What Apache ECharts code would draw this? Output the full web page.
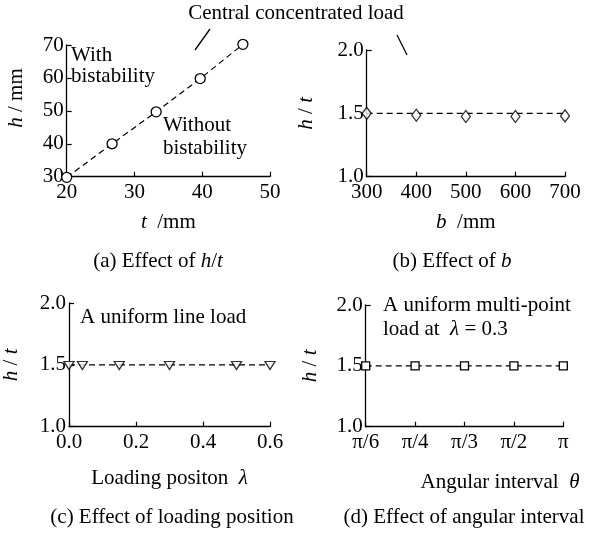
<!DOCTYPE html>
<html><head><meta charset="utf-8">
<script src="https://cdn.jsdelivr.net/npm/echarts@6/dist/echarts.min.js"></script>
<style>html,body{margin:0;padding:0;background:#fff}#c{width:590px;height:538px}</style>
</head><body><div id="c"></div>
<script>
// Panel (a): h vs t
const aT = [20, 26.7, 33.2, 39.7, 46.0];
const aH = [29.8, 40, 49.7, 59.8, 70.2];
// Panel (b): h/t vs b
const bB = [300, 400, 500, 600, 700];
const bR = [1.5, 1.485, 1.475, 1.475, 1.48];
// Panel (c): h/t vs loading position
const cL = [0, 0.04, 0.15, 0.3, 0.5, 0.6];
const cR = [1.495, 1.495, 1.495, 1.495, 1.495, 1.495];
// Panel (d): h/t vs angular interval
const dTheta = ['π/6', 'π/4', 'π/3', 'π/2', 'π'];
const dR = [1.5, 1.5, 1.5, 1.5, 1.5];
const refLevel = 1.5;

const FONT = 'Liberation Serif';
const FS = 21;
const F = FS + 'px "Liberation Serif"';
const chart = echarts.init(document.getElementById('c'));
const axLine = {lineStyle: {color: '#000', width: 1.3}};
const tick = {show: true, inside: true, length: 5, lineStyle: {color: '#000', width: 1.2}};
const lab = (m) => ({color: '#000', fontFamily: FONT, fontSize: FS, margin: m});
const rich = {
  i: {fontStyle: 'italic', fontFamily: FONT, fontSize: FS, color: '#000'},
  n: {fontFamily: FONT, fontSize: FS, color: '#000'}
};
const nameStyle = {fontFamily: FONT, fontSize: FS, color: '#000', rich: rich};
const dash = {color: '#000', width: 1.2, type: [6, 4]};
const empty = {color: '#fff', borderColor: '#000', borderWidth: 1.3};

const grids = [
  {left: 66.7, top: 45, width: 203.3, height: 131.7},
  {left: 366.7, top: 50, width: 198.3, height: 126.7},
  {left: 66.7, top: 303, width: 203.3, height: 123.7},
  {left: 365.7, top: 305, width: 197.6, height: 121.7}
];

const yAxisCommon = (gi, min, max, interval, dec, name, gap) => ({
  gridIndex: gi, type: 'value', min: min, max: max, interval: interval,
  axisLine: Object.assign({show: true}, axLine), axisTick: tick, splitLine: {show: false},
  axisLabel: Object.assign(lab(3), {formatter: v => v.toFixed(dec)}),
  name: name, nameLocation: 'middle', nameGap: gap, nameTextStyle: nameStyle
});

const option = {
  animation: false,
  backgroundColor: '#fff',
  grid: grids,
  xAxis: [
    {gridIndex: 0, type: 'value', min: 20, max: 50, interval: 10,
     axisLine: Object.assign({show: true}, axLine), axisTick: tick, splitLine: {show: false},
     axisLabel: lab(5), name: '{i|t}{n|  /mm}', nameLocation: 'middle', nameGap: 35, nameTextStyle: nameStyle},
    {gridIndex: 1, type: 'value', min: 300, max: 700, interval: 100,
     axisLine: Object.assign({show: true}, axLine), axisTick: tick, splitLine: {show: false},
     axisLabel: lab(5), name: '{i|b}{n|  /mm}', nameLocation: 'middle', nameGap: 35, nameTextStyle: nameStyle},
    {gridIndex: 2, type: 'value', min: 0, max: 0.6, interval: 0.2,
     axisLine: Object.assign({show: true}, axLine), axisTick: tick, splitLine: {show: false},
     axisLabel: Object.assign(lab(5), {formatter: v => v.toFixed(1)}),
     name: '{n|Loading positon  }{i|λ}', nameLocation: 'middle', nameGap: 41, nameTextStyle: nameStyle},
    {gridIndex: 3, type: 'category', data: dTheta, boundaryGap: false,
     axisLine: Object.assign({show: true}, axLine), axisTick: Object.assign({}, tick, {alignWithLabel: true}), splitLine: {show: false},
     axisLabel: Object.assign(lab(5), {interval: 0})}
  ],
  yAxis: [
    Object.assign(yAxisCommon(0, 30, 70, 10, 0, '', 40), {name: ''}),
    yAxisCommon(1, 1.0, 2.0, 0.5, 1, '{i|h}{n| / }{i|t}', 50),
    yAxisCommon(2, 1.0, 2.0, 0.5, 1, '{i|h}{n| / }{i|t}', 47),
    yAxisCommon(3, 1.0, 2.0, 0.5, 1, '{i|h}{n| / }{i|t}', 45)
  ],
  series: [
    {type: 'line', xAxisIndex: 0, yAxisIndex: 0, data: aT.map((t, i) => [t, aH[i]]), clip: false,
     symbol: 'circle', symbolSize: 10, lineStyle: dash, itemStyle: empty, z: 3},
    {type: 'line', xAxisIndex: 1, yAxisIndex: 1, data: [[bB[0], refLevel], [bB[bB.length - 1], refLevel]],
     symbol: 'none', lineStyle: dash, clip: false},
    {type: 'scatter', xAxisIndex: 1, yAxisIndex: 1, data: bB.map((b, i) => [b, bR[i]]), clip: false,
     symbol: 'diamond', symbolSize: [9, 12], itemStyle: empty, z: 3},
    {type: 'line', xAxisIndex: 2, yAxisIndex: 2, data: [[cL[0], refLevel], [cL[cL.length - 1], refLevel]],
     symbol: 'none', lineStyle: dash, clip: false},
    {type: 'scatter', xAxisIndex: 2, yAxisIndex: 2, data: cL.map((l, i) => [l, cR[i]]), clip: false,
     symbol: 'triangle', symbolRotate: 180, symbolSize: [10, 8], itemStyle: empty, z: 3},
    {type: 'line', xAxisIndex: 3, yAxisIndex: 3, data: dR.map((r, i) => [dTheta[i], r]), clip: false,
     symbol: 'rect', symbolSize: 8, lineStyle: dash, itemStyle: empty, z: 3}
  ],
  graphic: [
    {type: 'text', x: 296, y: 13, style: {text: 'Central concentrated load', font: F, fill: '#000', align: 'center', verticalAlign: 'middle'}},
    {type: 'line', shape: {x1: 195, y1: 50, x2: 210, y2: 29}, style: {stroke: '#000', lineWidth: 1.3}},
    {type: 'line', shape: {x1: 397, y1: 35, x2: 407, y2: 55}, style: {stroke: '#000', lineWidth: 1.3}},
    {type: 'text', x: 16, y: 98, rotation: Math.PI / 2, style: {text: '{i|h}{n| / mm}', font: F, fill: '#000', align: 'center', verticalAlign: 'middle', rich: rich}},
    {type: 'text', x: 71, y: 55, style: {text: 'With', font: F, fill: '#000', align: 'left', verticalAlign: 'middle'}},
    {type: 'text', x: 71, y: 76, style: {text: 'bistability', font: F, fill: '#000', align: 'left', verticalAlign: 'middle'}},
    {type: 'text', x: 163, y: 125, style: {text: 'Without', font: F, fill: '#000', align: 'left', verticalAlign: 'middle'}},
    {type: 'text', x: 163, y: 148, style: {text: 'bistability', font: F, fill: '#000', align: 'left', verticalAlign: 'middle'}},
    {type: 'text', x: 80, y: 317, style: {text: 'A uniform line load', font: F, fill: '#000', align: 'left', verticalAlign: 'middle'}},
    {type: 'text', x: 383, y: 305, style: {text: 'A uniform multi-point', font: F, fill: '#000', align: 'left', verticalAlign: 'middle'}},
    {type: 'text', x: 383, y: 329, style: {text: '{n|load at  }{i|λ}{n| = 0.3}', font: F, fill: '#000', align: 'left', verticalAlign: 'middle', rich: rich}},
    {type: 'text', x: 500, y: 482, style: {text: '{n|Angular interval  }{i|θ}', font: F, fill: '#000', align: 'center', verticalAlign: 'middle', rich: rich}},
    {type: 'text', x: 158, y: 261, style: {text: '{n|(a) Effect of }{i|h}{n|/}{i|t}', font: F, fill: '#000', align: 'center', verticalAlign: 'middle', rich: rich}},
    {type: 'text', x: 452, y: 261, style: {text: '{n|(b) Effect of }{i|b}', font: F, fill: '#000', align: 'center', verticalAlign: 'middle', rich: rich}},
    {type: 'text', x: 172, y: 517, style: {text: '(c) Effect of loading position', font: F, fill: '#000', align: 'center', verticalAlign: 'middle'}},
    {type: 'text', x: 464, y: 517, style: {text: '(d) Effect of angular interval', font: F, fill: '#000', align: 'center', verticalAlign: 'middle'}}
  ]
};
chart.setOption(option);
</script>
</body></html>
